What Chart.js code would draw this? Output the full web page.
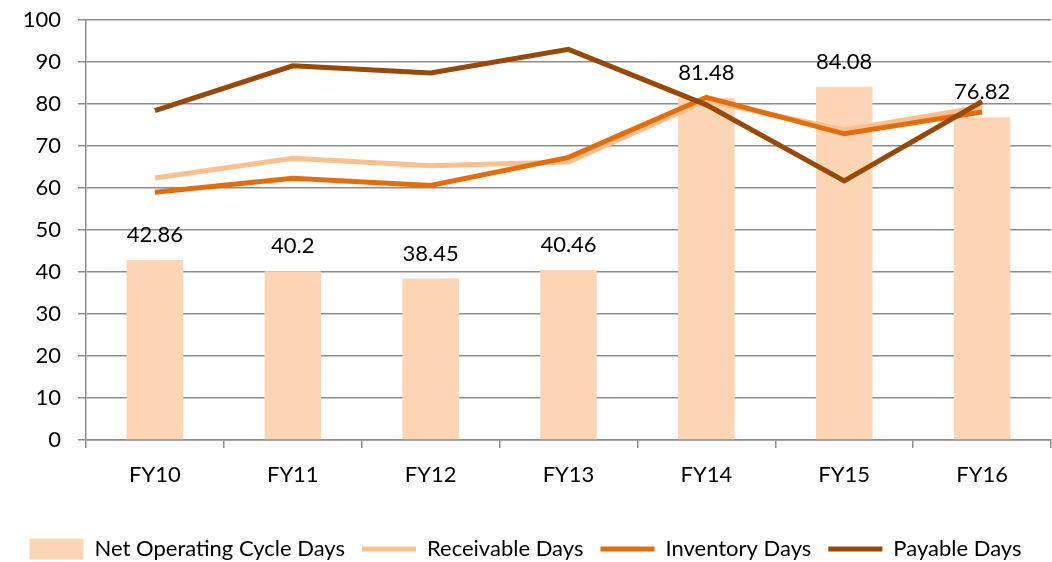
<!DOCTYPE html>
<html>
<head>
<meta charset="utf-8">
<script src="https://cdn.jsdelivr.net/npm/chart.js@4/dist/chart.umd.min.js"></script>
<style>
  html, body { margin: 0; padding: 0; background: #fff; }
  #wrap { width: 1052px; height: 562px; }
</style>
</head>
<body>
<div id="wrap"><canvas id="myChart" width="1052" height="562"></canvas></div>
<script>
//Chart data
var years = ["FY10", "FY11", "FY12", "FY13", "FY14", "FY15", "FY16"];
var netCycleDays = [42.86, 40.2, 38.45, 40.46, 81.48, 84.08, 76.82];
var receivableDays = [62.4, 67.1, 65.3, 66.2, 80.8, 73.8, 79.3];
var inventoryDays = [59.0, 62.3, 60.6, 67.3, 81.6, 72.9, 78.1];
var payableDays = [78.4, 89.1, 87.4, 93.0, 79.8, 61.7, 80.6];
var yTicks = [0, 10, 20, 30, 40, 50, 60, 70, 80, 90, 100];

//Colors
var barColor = "#fcd5b5";
var receivableColor = "#fac090";
var inventoryColor = "#e46c0a";
var payableColor = "#984807";
var gridColor = "#8c8c8c";

var fontFamily = "Lato, 'Open Sans', sans-serif";
Chart.defaults.font.family = fontFamily;
Chart.defaults.font.size = 22;
Chart.defaults.color = "#000";

//Draws the value above each bar
var barLabels = {
  id: "barLabels",
  afterDatasetsDraw: function (chart) {
    var ctx = chart.ctx;
    var meta = chart.getDatasetMeta(0);
    ctx.save();
    ctx.font = "22px " + fontFamily;
    ctx.fillStyle = "#000";
    ctx.textAlign = "center";
    ctx.textBaseline = "alphabetic";
    for (var i = 0; i < meta.data.length; i++) {
      var bar = meta.data[i];
      ctx.fillText(String(netCycleDays[i]), bar.x, bar.y - 18);
    }
    ctx.restore();
  }
};

//Fix the legend box height so the plot bottom lands where it should
var legendHeight = {
  id: "legendHeight",
  beforeInit: function (chart) {
    var legend = chart.legend;
    if (!legend) return;
    var fit = legend.fit;
    legend.fit = function () {
      fit.call(this);
      this.height = 41;
    };
  }
};

var ctx = document.getElementById("myChart").getContext("2d");

var myChart = new Chart(ctx, {
  type: "bar",
  data: {
    labels: years,
    datasets: [
      {
        type: "bar",
        label: "Net Operating Cycle Days",
        data: netCycleDays,
        backgroundColor: barColor,
        borderWidth: 0,
        pointStyle: "rect",
        categoryPercentage: 1,
        barPercentage: 0.41,
        order: 4
      },
      {
        type: "line",
        label: "Receivable Days",
        data: receivableDays,
        borderColor: receivableColor,
        backgroundColor: receivableColor,
        borderWidth: 5,
        pointRadius: 0,
        pointStyle: "line",
        tension: 0,
        order: 3
      },
      {
        type: "line",
        label: "Inventory Days",
        data: inventoryDays,
        borderColor: inventoryColor,
        backgroundColor: inventoryColor,
        borderWidth: 5,
        pointRadius: 0,
        pointStyle: "line",
        tension: 0,
        order: 2
      },
      {
        type: "line",
        label: "Payable Days",
        data: payableDays,
        borderColor: payableColor,
        backgroundColor: payableColor,
        borderWidth: 5,
        pointRadius: 0,
        pointStyle: "line",
        tension: 0,
        order: 1
      }
    ]
  },
  options: {
    responsive: false,
    animation: false,
    layout: { padding: { top: 20, right: 1, left: 0, bottom: 0 } },
    plugins: {
      tooltip: { enabled: false },
      legend: {
        position: "bottom",
        labels: {
          usePointStyle: true,
          pointStyleWidth: 54,
          boxHeight: 21,
          padding: 17,
          font: { size: 22 },
          color: "#000",
          sort: function (a, b) { return a.datasetIndex - b.datasetIndex; }
        }
      }
    },
    scales: {
      x: {
        offset: true,
        grid: {
          offset: true,
          drawOnChartArea: false,
          color: gridColor,
          lineWidth: 1.5,
          tickLength: 8
        },
        border: { color: gridColor, width: 1.5 },
        ticks: { padding: 14, font: { size: 22 }, color: "#000" },
        afterFit: function (scale) { scale.height = 81; }
      },
      y: {
        min: 0,
        max: 100,
        afterBuildTicks: function (scale) {
          scale.ticks = yTicks.map(function (v) { return { value: v }; });
        },
        grid: { color: gridColor, lineWidth: 1.5, tickLength: 8 },
        border: { color: gridColor, width: 1.5 },
        ticks: { padding: 17, font: { size: 22 }, color: "#000" },
        afterFit: function (scale) {
          scale.width = 86;
          scale.paddingTop = 0;
          scale.paddingBottom = 0;
        }
      }
    }
  },
  plugins: [barLabels, legendHeight]
});
</script>
</body>
</html>
